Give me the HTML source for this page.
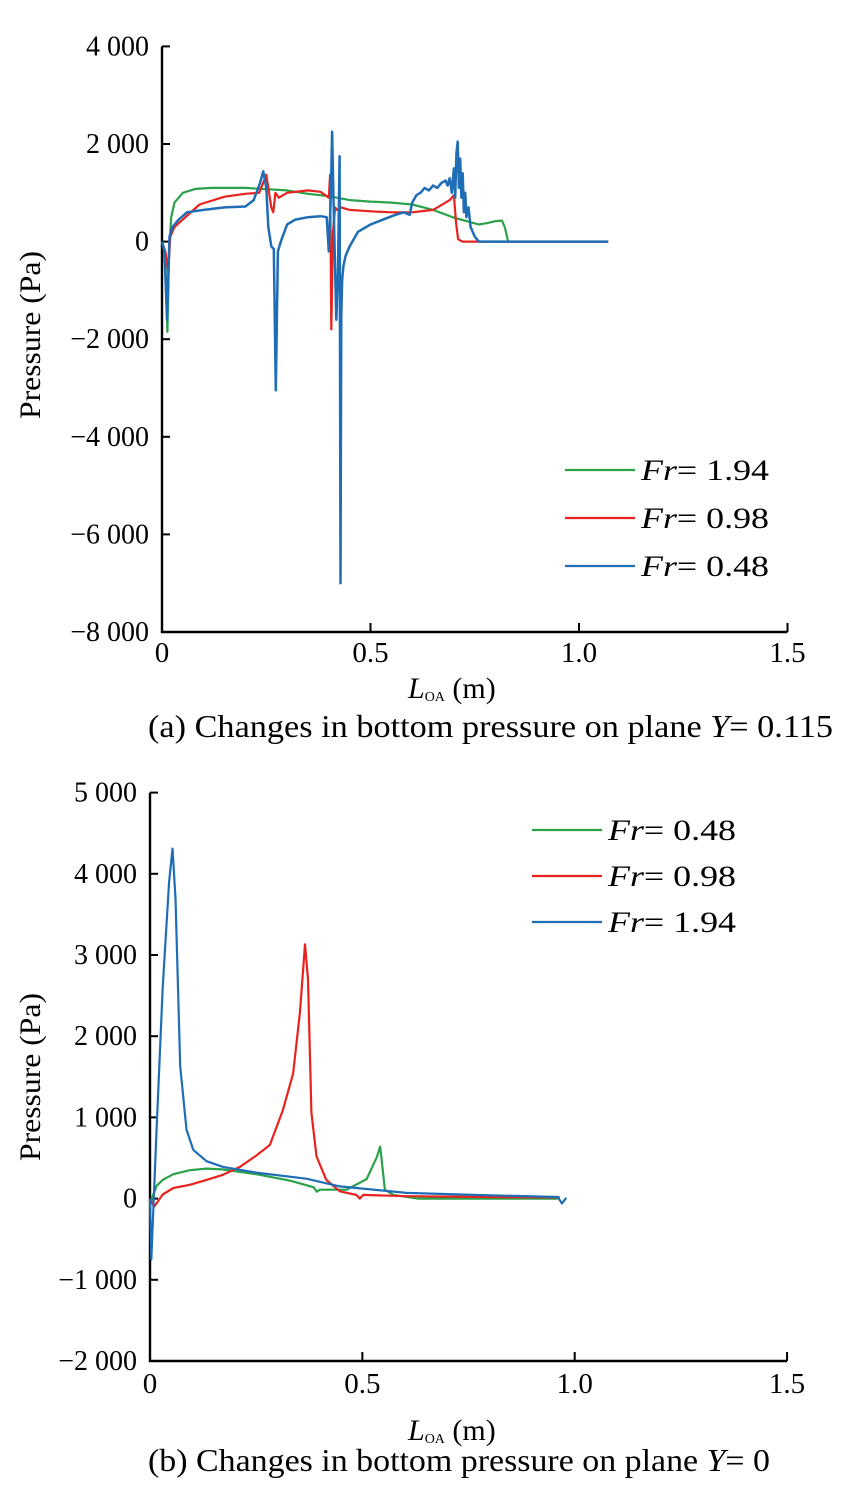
<!DOCTYPE html>
<html><head><meta charset="utf-8"><style>
body{margin:0;background:#fff;}
svg{display:block;font-family:"Liberation Serif",serif;}
</style></head><body>
<svg id="s" width="854" height="1485" viewBox="0 0 854 1485"></svg>
<script>
// ---- Chart (a) data ----
const aTicksY=[4000,2000,0,-2000,-4000,-6000,-8000];
const aTickLabelsY=["4 000","2 000","0","\u22122 000","\u22124 000","\u22126 000","\u22128 000"];
const xTicks=[0,0.5,1.0,1.5];
const xTickLabels=["0","0.5","1.0","1.5"];
const aGreenX=[0,0.008,0.013,0.017,0.022,0.03,0.05,0.08,0.12,0.2,0.3,0.35,0.4,0.45,0.5,0.55,0.6,0.65,0.7,0.73,0.76,0.78,0.8,0.815,0.822,0.83,0.9,1.0,1.07];
const aGreenY=[0,-300,-1850,-200,500,800,1000,1080,1100,1100,1050,980,930,850,820,800,760,650,490,420,350,380,420,430,300,0,0,0,0];
const aRedX=[0,0.008,0.015,0.02,0.03,0.05,0.09,0.15,0.2,0.233,0.25,0.255,0.262,0.267,0.272,0.28,0.3,0.35,0.38,0.4,0.403,0.406,0.41,0.415,0.42,0.43,0.45,0.5,0.55,0.6,0.65,0.68,0.69,0.7,0.705,0.71,0.72,0.8,1.0,1.07];
const aRedY=[0,-200,-600,100,300,450,760,920,980,1000,1370,1100,700,600,1000,900,1000,1050,1020,900,1370,-1800,200,700,650,700,650,620,600,600,650,800,850,950,400,50,0,0,0,0];
const aBlueX=[0,0.006,0.012,0.018,0.025,0.04,0.06,0.1,0.15,0.2,0.22,0.235,0.243,0.25,0.255,0.262,0.268,0.273,0.278,0.285,0.3,0.32,0.35,0.38,0.395,0.4,0.405,0.408,0.412,0.418,0.422,0.426,0.428,0.43,0.432,0.435,0.44,0.45,0.47,0.5,0.53,0.56,0.58,0.594,0.6,0.61,0.62,0.63,0.64,0.65,0.66,0.67,0.68,0.685,0.69,0.695,0.7,0.703,0.706,0.709,0.712,0.715,0.718,0.721,0.724,0.727,0.73,0.735,0.74,0.75,0.76,0.8,1.0,1.07];
const aBlueY=[0,-200,-1600,100,300,450,600,650,700,720,850,1200,1440,1100,300,-100,-150,-3050,-200,0,350,450,500,520,500,-200,1000,2250,600,-1600,-600,1750,-7000,-1500,-800,-500,-300,-100,200,350,450,550,600,550,800,950,1000,1100,1050,1150,1100,1200,1250,1150,1300,1000,1500,900,1800,2050,1100,1700,900,1400,600,1000,500,700,300,100,0,0,0,0];
// ---- Chart (b) data ----
const bTicksY=[5000,4000,3000,2000,1000,0,-1000,-2000];
const bTickLabelsY=["5 000","4 000","3 000","2 000","1 000","0","\u22121 000","\u22122 000"];
const bGreenX=[0,0.004,0.016,0.03,0.055,0.094,0.133,0.17,0.25,0.33,0.385,0.393,0.40,0.463,0.51,0.534,0.542,0.553,0.573,0.63,0.8,0.96];
const bGreenY=[-100,0,160,230,300,350,370,360,300,220,140,85,110,110,240,510,640,110,45,0,0,0];
const bRedX=[0,0.01,0.03,0.055,0.094,0.133,0.17,0.212,0.25,0.282,0.313,0.337,0.353,0.365,0.372,0.38,0.392,0.415,0.447,0.486,0.494,0.502,0.604,0.8,0.965];
const bRedY=[0,-100,50,130,170,230,290,390,530,660,1090,1540,2290,3130,2700,1060,520,230,90,45,0,45,30,20,15];
const bBlueX=[0,0.003,0.015,0.03,0.045,0.053,0.06,0.071,0.086,0.102,0.133,0.172,0.25,0.368,0.447,0.604,0.761,0.96,0.97,0.98];
const bBlueY=[0,-750,800,2600,3900,4310,3700,1630,850,600,460,390,320,245,150,70,45,20,-60,10];

const NS="http://www.w3.org/2000/svg";
const svg=document.getElementById('s');
function mk(tag,attrs,parent,text){const e=document.createElementNS(NS,tag);for(const k in attrs)e.setAttribute(k,attrs[k]);if(text!==undefined)e.textContent=text;(parent||svg).appendChild(e);return e;}

function chart(cfg){
  const g=mk('g',{});
  
  
  const sx=v=>cfg.x0+v*cfg.xs;
  const sy=v=>cfg.y0-(v-cfg.ymin)*cfg.ys;
  const ax=mk('path',{d:`M${cfg.x0} ${sy(cfg.ticksY[0])}V${cfg.y0}H${sx(1.5)}`,stroke:'#000','stroke-width':2.4,fill:'none'},g);
  
  
  cfg.ticksY.forEach((t,i)=>{
    mk('line',{x1:cfg.x0,x2:cfg.x0+8,y1:sy(t),y2:sy(t),stroke:'#000','stroke-width':2},g);
    const l=mk('text',{x:cfg.x0-13,y:sy(t)+9,'text-anchor':'end','font-size':28},g,cfg.labelsY[i]);
    
    
  });
  xTicks.forEach((t,i)=>{
    mk('line',{x1:sx(t),x2:sx(t),y1:cfg.y0,y2:cfg.y0-9,stroke:'#000','stroke-width':2},g);
    const l=mk('text',{x:sx(t),y:cfg.y0+cfg.xtOff,'text-anchor':'middle','font-size':29},g,xTickLabels[i]);
    
    
  });
  cfg.series.forEach(s=>{
    const d=s.x.map((v,i)=>(i?'L':'M')+sx(v).toFixed(1)+' '+sy(s.y[i]).toFixed(1)).join('');
    const p=mk('path',{d:d,stroke:s.c,'stroke-width':s.w||2.2,fill:'none','stroke-linejoin':'round'},g);
    
    
  });
  cfg.legend.forEach((L,i)=>{
    const y=cfg.legY+i*cfg.legDy;
    const lg=mk('g',{},g);
    
    
    mk('line',{x1:cfg.legX,x2:cfg.legX+70,y1:y,y2:y,stroke:L.c,'stroke-width':2.2},lg);
    const t=mk('text',{x:cfg.legX+76,y:y+10,'font-size':30,textLength:128,lengthAdjust:'spacingAndGlyphs'},lg);
    mk('tspan',{'font-style':'italic'},t,'Fr');
    mk('tspan',{},t,'= '+L.v);
  });
  const yt=mk('text',{transform:`translate(40 ${cfg.ymid}) rotate(-90)`,'text-anchor':'middle','font-size':30,textLength:168,lengthAdjust:'spacingAndGlyphs'},g,'Pressure (Pa)');
  
  
  const xt=mk('text',{x:cfg.xtX,y:cfg.xtY,'font-size':30},g);
  
  
  mk('tspan',{'font-style':'italic'},xt,'L');
  mk('tspan',{'font-size':14,dy:3},xt,'OA');
  mk('tspan',{dy:-3},xt,' (m)');
  const cap=mk('text',{x:cfg.capX,y:cfg.capY,'font-size':32,textLength:cfg.capW,lengthAdjust:'spacingAndGlyphs'},g);
  
  
  mk('tspan',{},cap,cfg.cap);
  mk('tspan',{'font-style':'italic'},cap,'Y');
  mk('tspan',{},cap,'= '+cfg.capV);
}
chart({name:'chart-a',x0:162,xs:417,y0:632,ymin:-8000,ys:97.6/2000,ticksY:aTicksY,labelsY:aTickLabelsY,xtOff:30,
  series:[{x:aGreenX,y:aGreenY,c:'#2aa24a',n:'line-fr-1-94'},{x:aRedX,y:aRedY,c:'#e8231f',n:'line-fr-0-98'},{x:aBlueX,y:aBlueY,c:'#1f6db5',n:'line-fr-0-48',w:2.5}],
  legend:[{c:'#2aa24a',v:'1.94'},{c:'#e8231f',v:'0.98'},{c:'#1f6db5',v:'0.48'}],legX:565,legY:470,legDy:48,
  ymid:335,xtX:408,xtY:698,capX:148,capY:737,capW:685,cap:'(a) Changes in bottom pressure on plane ',capV:'0.115'});
chart({name:'chart-b',x0:150,xs:424.7,y0:1361,ymin:-2000,ys:81.2/1000,ticksY:bTicksY,labelsY:bTickLabelsY,xtOff:32,
  series:[{x:bGreenX,y:bGreenY,c:'#2aa24a',n:'line-fr-0-48'},{x:bRedX,y:bRedY,c:'#e8231f',n:'line-fr-0-98'},{x:bBlueX,y:bBlueY,c:'#1f6db5',n:'line-fr-1-94'}],
  legend:[{c:'#2aa24a',v:'0.48'},{c:'#e8231f',v:'0.98'},{c:'#1f6db5',v:'1.94'}],legX:532,legY:830,legDy:46,
  ymid:1077,xtX:408,xtY:1440,capX:148,capY:1471,capW:622,cap:'(b) Changes in bottom pressure on plane ',capV:'0'});
</script>
</body></html>
